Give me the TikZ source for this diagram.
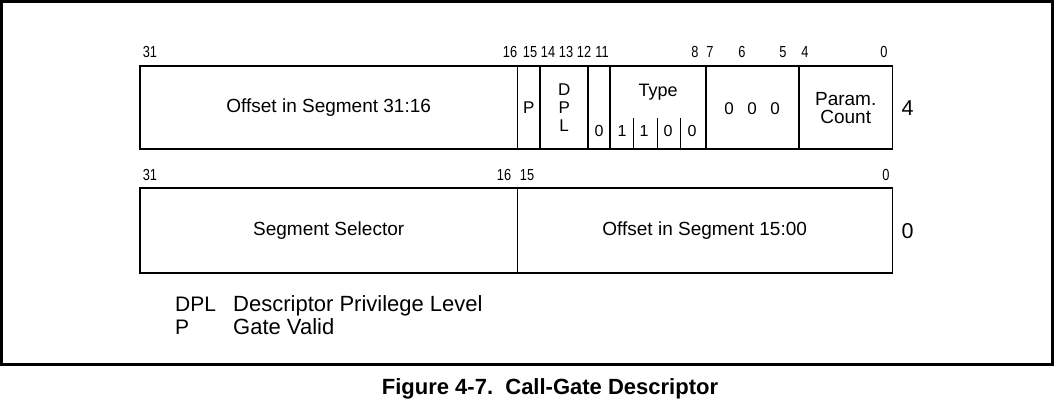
\documentclass[tikz,border=0pt]{standalone}
\usepackage{fontspec}
\setmainfont{Liberation Sans}
\newfontfamily\bitfont[FakeStretch=0.8]{Liberation Sans}
\usetikzlibrary{positioning}
\newcommand{\fsz}[1]{\fontsize{#1}{#1}\selectfont}

\begin{document}
\begin{tikzpicture}[x=1pt,y=-1pt,
        field/.style={inner sep=0pt,anchor=north west,minimum height=83pt,font=\fsz{19}},
        box/.style={line width=1.8pt},
        div/.style={line width=1.6pt},
        thindiv/.style={line width=0.9pt},
        bitno/.style={inner sep=0pt,anchor=base,font=\bitfont\fsz{16}},
        bit/.style={inner sep=0pt,font=\fsz{16}},
        side/.style={inner sep=0pt,font=\fsz{21.5}},
        legend/.style={inner sep=0pt,anchor=base west,font=\fsz{22}}]

    \useasboundingbox (0,0) rectangle (1055,411);
    \draw[line width=3pt] (1.5,1.5) rectangle (1052,364.5);

    % upper word (4)
    \node[field,minimum width=377pt] (offhi) at (140,66) {Offset in Segment 31:16};
    \node[field,minimum width=23pt,font=\fsz{17}] (p) at (517,66) {P};
    \node[field,minimum width=48pt] (dpl) at (540,66) {};
    \node[field,minimum width=22pt] (zero) at (588,66) {};
    \node[field,minimum width=96pt] (type) at (610,66) {};
    \node[field,minimum width=93pt] (rsvd) at (706,66) {};
    \node[field,minimum width=93pt,align=center] (pcount) at (799,66) {Param.\\[-1pt]Count};

    \draw[box] (offhi.north west) rectangle (pcount.south east);
    \draw[thindiv] (p.north west) -- (p.south west);
    \foreach \f in {dpl,zero,type,rsvd,pcount}
        \draw[div] (\f.north west) -- (\f.south west);
    \foreach \dx in {23,47,70}
        \draw[thindiv] ([xshift=\dx pt]type.south west) -- ++(0,-31);

    \node[align=center,inner sep=0pt,font=\fsz{17}] (dpltxt) at (dpl.center) {D\\[1pt]P\\[1pt]L};
    \node[inner sep=0pt,font=\fsz{18}] (typetxt) at ([yshift=15.5pt]type.center) {Type};
    \node[bit] (z12) at (599,131) {0};
    \foreach \x/\b [count=\i] in {622/1,644/1,668/0,692/0}
        \node[bit] (t\i) at (\x,131) {\b};
    \foreach \x [count=\i] in {729,752,775}
        \node[bit,font=\fsz{17}] (r\i) at (\x,109) {0};

    \foreach \x/\n in {150/31,510/16,530/15,548/14,566/13,584/12,602/11,695/8,710/7,742/6,783/5,805/4,884/0}
        \node[bitno] (hi\n) at (\x,58) {\n};
    \node[side,right=9pt of pcount] (addr4) {4};

    % lower word (0)
    \node[field,minimum width=377pt,minimum height=85pt] (sel) at (140,188) {Segment Selector};
    \node[field,minimum width=375pt,minimum height=85pt] (offlo) at (517,188) {Offset in Segment 15:00};
    \draw[box] (sel.north west) rectangle (offlo.south east);
    \draw[thindiv] (offlo.north west) -- (offlo.south west);

    \foreach \x/\n in {150/31,504/16,527/15,886/0}
        \node[bitno] (lo\n) at (\x,181) {\n};
    \node[side,right=9pt of offlo] (addr0) {0};

    % legend
    \node[legend,font=\fsz{21}] (kdpl) at (175,312) {DPL};
    \node[legend] (vdpl) at (233,312) {Descriptor Privilege Level};
    \node[legend,font=\fsz{21}] (kp) at (175,335) {P};
    \node[legend] (vp) at (233,335) {Gate Valid};

    \node[inner sep=0pt,anchor=base,font=\fsz{22}\bfseries] (caption) at (550,395) {Figure 4-7.\ \ Call-Gate Descriptor};
\end{tikzpicture}
\end{document}
